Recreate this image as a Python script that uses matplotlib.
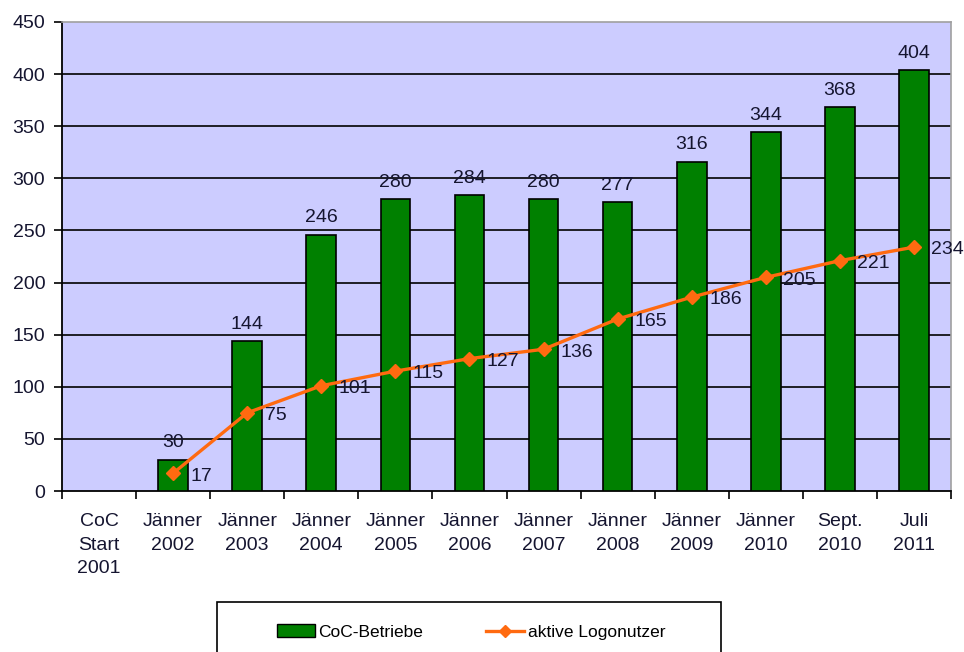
import matplotlib
matplotlib.use("Agg")
import matplotlib.pyplot as plt
import numpy as np
from matplotlib.patches import Rectangle
from matplotlib.lines import Line2D

categories = ["CoC\nStart\n2001", "Jänner\n2002", "Jänner\n2003", "Jänner\n2004",
              "Jänner\n2005", "Jänner\n2006", "Jänner\n2007", "Jänner\n2008",
              "Jänner\n2009", "Jänner\n2010", "Sept.\n2010", "Juli\n2011"]
betriebe = [None, 30, 144, 246, 280, 284, 280, 277, 316, 344, 368, 404]
logonutzer = [None, 17, 75, 101, 115, 127, 136, 165, 186, 205, 221, 234]
yticks = [0, 50, 100, 150, 200, 250, 300, 350, 400, 450]

plt.rcParams['font.family'] = ['Liberation Sans', 'DejaVu Sans']
txtc = '#151530'
fs = 14

fig = plt.figure(figsize=(9.64, 6.52), dpi=100)
ax = fig.add_axes([62/964, 1-491/652, 889/964, 469/652])
ax.set_facecolor('#CCCCFF')

x = np.arange(len(categories))
bx = [i for i, v in zip(x, betriebe) if v is not None]
bv = [v for v in betriebe if v is not None]
ax.bar(bx, bv, width=0.4, color='#008000', edgecolor='black', linewidth=1.2, zorder=3)

lx = [i for i, v in zip(x, logonutzer) if v is not None]
lv = [v for v in logonutzer if v is not None]
ax.plot(lx, lv, color='#FF6A10', lw=2.4, marker='D', markersize=7, zorder=4)

for i, v in zip(bx, bv):
    ax.annotate(str(v), (i, v), xytext=(0, 6), textcoords='offset points',
                ha='center', va='bottom', fontsize=fs, color=txtc, zorder=5)
for i, v in zip(lx, lv):
    ax.annotate(str(v), (i, v), xytext=(12.5, -2), textcoords='offset points',
                ha='left', va='center', fontsize=fs, color=txtc, zorder=5)

ax.set_xlim(-0.5, len(categories) - 0.5)
ax.set_ylim(0, 450)
ax.set_yticks(yticks)
ax.set_yticklabels([str(t) for t in yticks], fontsize=fs, color=txtc)
for t in yticks[1:-1]:
    ax.axhline(t, color='black', lw=1.2, zorder=1)

ax.set_xticks(x)
ax.set_xticklabels(categories, fontsize=fs, color=txtc, linespacing=1.5)
ax.set_xticks(np.arange(-0.5, len(categories)), minor=True)
ax.tick_params(axis='x', which='major', length=0, pad=16)
ax.tick_params(axis='x', which='minor', length=6, width=1.2, direction='out')
ax.tick_params(axis='y', length=6, width=1.2, direction='out', pad=6)

for s in ['left', 'bottom']:
    ax.spines[s].set_color('black')
    ax.spines[s].set_linewidth(1.3)
for s in ['top', 'right']:
    ax.spines[s].set_color('#A0A0A0')
    ax.spines[s].set_linewidth(1.2)

# legend box
fig.patches.append(Rectangle((217/964, -0.05), (721-217)/964, 0.05 + 1-602/652,
                             transform=fig.transFigure, facecolor='white',
                             edgecolor='black', lw=1.2))
handles = [Rectangle((0, 0), 1, 1, facecolor='#008000', edgecolor='black', lw=1),
           Line2D([], [], color='#FF6A10', lw=2.4, marker='D', markersize=6)]
fig.legend(handles, ['CoC-Betriebe', 'aktive Logonutzer'], loc='center',
           bbox_to_anchor=(471/964, 1-632/652), ncol=2, frameon=False,
           fontsize=12.5, handlelength=2.2, handletextpad=0.2, columnspacing=3.6)

fig.savefig('out.png', dpi=100)
